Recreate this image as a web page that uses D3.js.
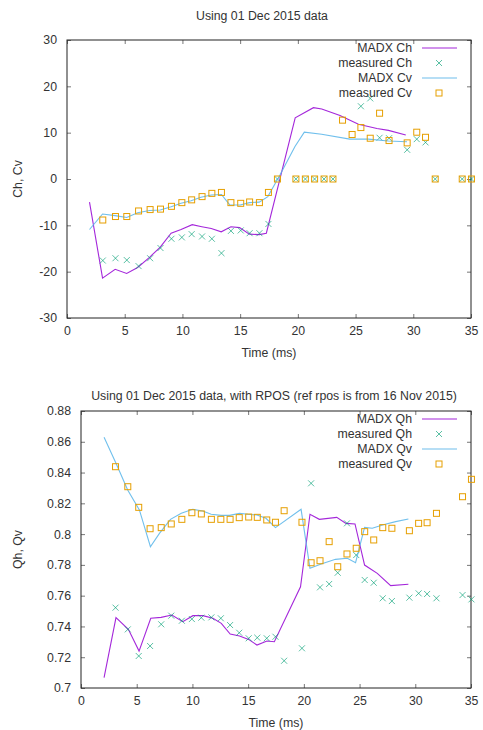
<!DOCTYPE html>
<html><head><meta charset="utf-8">
<script src="https://cdn.jsdelivr.net/npm/d3@7"></script>
<style>
body{margin:0;background:#fff;}
text{font-family:"Liberation Sans",Arial,sans-serif;fill:#333;}
</style></head>
<body><svg id="c" width="483" height="730"></svg>
<script>
// ---- data ----
const xTicks = [0,5,10,15,20,25,30,35];
const topYTicks = [-30,-20,-10,0,10,20,30];
const botYTicks = [0.7,0.72,0.74,0.76,0.78,0.8,0.82,0.84,0.86,0.88];
const botYLabels = ["0.7","0.72","0.74","0.76","0.78","0.8","0.82","0.84","0.86","0.88"];

// measured times (ms)
const tMeas = [3.1,4.2,5.18,6.2,7.2,8.1,9.05,9.95,10.8,11.7,12.55,13.38,14.2,15.05,15.82,16.67,17.45,18.23,19.83,20.65,21.45,22.27,23.04,23.87,24.7,25.46,26.27,27.08,27.9,29.47,30.3,31.06,31.9,34.24,35.04];

// top chart
const madxChT = [1.95,3.08,4.17,5.17,6.12,7.15,8.08,9.02,9.88,10.85,11.68,12.5,13.36,14.2,14.95,15.8,16.65,17.27,19.77,21.35,22.07,23.65,25.25,26.85,27.85,29.35];
const madxCh  = [-5.0,-21.4,-19.5,-20.4,-19.1,-16.9,-14.7,-11.7,-10.9,-9.85,-10.3,-10.7,-11.4,-10.3,-10.5,-11.9,-12.0,-11.7,13.2,15.4,15.1,13.7,11.8,10.9,10.5,9.5];
const measCh  = [-17.6,-17.1,-17.5,-18.8,-17.1,-14.9,-12.9,-12.6,-11.9,-12.4,-12.9,-16.0,-11.2,-11.1,-11.7,-11.7,-9.7,0,0,0,0,0,0,null,null,15.7,17.4,8.9,8.8,6.3,8.6,7.9,0,0,0];
const madxCvT = [1.95,3.08,4.17,5.17,6.12,7.15,8.08,9.02,9.88,10.75,11.6,12.5,13.38,14.1,15.0,15.8,16.65,17.4,18.45,19.75,20.56,22.06,24.5,26.1,27.85,29.45];
const madxCv  = [-10.9,-7.55,-7.9,-8.3,-7.3,-6.8,-6.7,-6.0,-5.25,-4.7,-3.95,-3.45,-3.35,-5.6,-5.6,-5.1,-5.0,-3.8,0.85,7.0,10.1,9.65,8.6,8.6,8.2,8.05];
const measCv  = [-8.85,-8.1,-8.1,-6.9,-6.6,-6.5,-5.9,-5.1,-4.5,-3.8,-3.1,-2.9,-5.1,-5.25,-4.96,-5.1,-2.9,0,0,0,0,0,0,12.7,9.6,11.1,8.8,14.2,8.3,7.8,10.1,9.0,0,0,0];

// bottom chart
const madxQhT = [2.07,3.14,4.25,5.21,6.26,7.19,8.15,9.14,10.04,10.94,11.84,12.59,13.39,14.23,15.04,15.79,16.69,17.35,19.7,20.55,21.39,22.95,23.78,24.59,25.45,26.59,27.79,29.38];
const madxQh  = [0.7067,0.7457,0.7381,0.724,0.7453,0.7459,0.7474,0.7431,0.747,0.747,0.7453,0.742,0.7351,0.7338,0.7316,0.7279,0.7305,0.7301,0.7658,0.8129,0.8096,0.8109,0.807,0.8066,0.7799,0.7745,0.7665,0.7674];
const measQh  = [0.7522,0.7381,0.7208,0.7273,0.7414,0.747,0.7437,0.7448,0.7457,0.7459,0.7453,0.7409,0.7359,0.7323,0.7327,0.7323,0.7333,0.7177,0.7258,0.833,0.7654,0.7676,0.7749,0.807,0.7864,0.7702,0.7684,0.7583,0.7565,0.7587,0.7615,0.7611,0.7583,0.7604,0.7576];
const madxQvT = [2.07,3.14,4.19,5.24,6.23,7.04,8.03,9.0,10.03,10.93,11.68,12.58,13.33,14.23,14.98,15.79,16.6,17.45,19.75,20.55,21.55,22.84,23.9,24.64,25.45,26.14,27.13,28.24,29.38];
const madxQv  = [0.8629,0.846,0.8287,0.8157,0.7918,0.8005,0.8096,0.8135,0.8161,0.815,0.8129,0.8122,0.8122,0.8135,0.8129,0.8124,0.8103,0.8042,0.8161,0.7778,0.7806,0.7836,0.7843,0.7814,0.8044,0.8038,0.8061,0.8081,0.8098];
const measQv  = [0.8438,0.8308,0.8174,0.8035,0.8042,0.8066,0.8096,0.8139,0.8131,0.8096,0.8096,0.8096,0.8107,0.8111,0.8109,0.8092,0.8077,0.8152,0.8077,0.7814,0.7827,0.7951,0.7788,0.7871,0.7908,0.8016,0.7962,0.8042,0.8038,0.8022,0.807,0.8074,0.8135,0.8243,0.8356];

const C = {purple:"#9400d3", green:"#009e73", blue:"#56b4e9", orange:"#e69f00"};
const FS = 12.3;
const svg = d3.select("#c");

function panel(o){
  const x = d3.scaleLinear().domain([0,35]).range([o.left,o.right]);
  const y = d3.scaleLinear().domain(o.ydom).range([o.bottom,o.top]);
  const g = svg.append("g");
  // ticks (inward, mirrored)
  const ax = [
    [d3.axisBottom(x).tickValues(xTicks).tickSize(-4).tickPadding(8), o.bottom, "x"],
    [d3.axisTop(x).tickValues(xTicks).tickSize(-4).tickFormat(""), o.top, "x"],
    [d3.axisLeft(y).tickValues(o.yticks).tickSize(-4).tickPadding(10).tickFormat((d,i)=>o.ylabels[i]), o.left, "y"],
    [d3.axisRight(y).tickValues(o.yticks).tickSize(-4).tickFormat(""), o.right, "y"]
  ];
  ax.forEach(([a,pos,k])=>{
    const ag = g.append("g").attr("transform", k==="x" ? `translate(0,${pos})` : `translate(${pos},0)`).call(a);
    ag.select(".domain").remove();
    ag.selectAll(".tick line").attr("stroke","#777");
    ag.selectAll(".tick text").attr("font-size",FS).attr("font-family","Liberation Sans, Arial, sans-serif").attr("fill","#333");
  });
  g.append("rect").attr("x",o.left).attr("y",o.top).attr("width",o.right-o.left).attr("height",o.bottom-o.top)
    .attr("fill","none").attr("stroke","#222").attr("stroke-width",1);
  // labels
  svg.append("text").attr("x",(o.left+o.right)/2).attr("y",o.bottom+39).attr("text-anchor","middle").attr("font-size",FS).text("Time (ms)");
  svg.append("text").attr("transform",`translate(22,${(o.top+o.bottom)/2}) rotate(-90)`).attr("text-anchor","middle").attr("font-size",FS).text(o.ylab);
  svg.append("text").attr("x",o.titleX).attr("y",o.titleY).attr("text-anchor","middle").attr("font-size",FS).text(o.title);

  const line = d3.line().x(d=>x(d[0])).y(d=>y(d[1]));
  const cross = (sel,px,py)=>sel.append("path").attr("d",`M${px-3},${py-3}L${px+3},${py+3}M${px-3},${py+3}L${px+3},${py-3}`)
      .attr("stroke",C.green).attr("stroke-width",1).attr("opacity",0.65).attr("fill","none");
  const square = (sel,px,py)=>sel.append("rect").attr("x",px-3).attr("y",py-3).attr("width",6).attr("height",6)
      .attr("stroke",C.orange).attr("stroke-width",1).attr("fill","none");

  o.series.forEach(s=>{
    if(s.type==="line"){
      g.append("path").datum(s.t.map((t,i)=>[t,s.v[i]])).attr("d",line).attr("fill","none")
        .attr("stroke",s.color).attr("stroke-width",1.1).attr("opacity",0.85);
    } else {
      s.t.forEach((t,i)=>{ if(s.v[i]!==null){ (s.type==="cross"?cross:square)(g,x(t),y(s.v[i])); } });
    }
  });
  // legend
  o.series.forEach((s,i)=>{
    const ly = o.legY + i*15;
    svg.append("text").attr("x",412).attr("y",ly).attr("dy","0.35em").attr("text-anchor","end").attr("font-size",FS).text(s.name);
    if(s.type==="line") g.append("line").attr("x1",422).attr("x2",457).attr("y1",ly).attr("y2",ly).attr("stroke",s.color).attr("stroke-width",1.1).attr("opacity",0.85);
    else (s.type==="cross"?cross:square)(g,439,ly);
  });
}

panel({left:67,right:471,top:40,bottom:318,ydom:[-30,30],yticks:topYTicks,ylabels:topYTicks.map(String),
  ylab:"Ch, Cv",title:"Using 01 Dec 2015 data",titleX:262,titleY:20,legY:48,
  series:[
    {name:"MADX Ch",type:"line",t:madxChT,v:madxCh,color:C.purple},
    {name:"measured Ch",type:"cross",t:tMeas,v:measCh},
    {name:"MADX Cv",type:"line",t:madxCvT,v:madxCv,color:C.blue},
    {name:"measured Cv",type:"square",t:tMeas,v:measCv}
  ]});
panel({left:81,right:471,top:411,bottom:688,ydom:[0.7,0.88],yticks:botYTicks,ylabels:botYLabels,
  ylab:"Qh, Qv",title:"Using 01 Dec 2015 data, with RPOS (ref rpos is from 16 Nov 2015)",titleX:274,titleY:400,legY:419,
  series:[
    {name:"MADX Qh",type:"line",t:madxQhT,v:madxQh,color:C.purple},
    {name:"measured Qh",type:"cross",t:tMeas,v:measQh},
    {name:"MADX Qv",type:"line",t:madxQvT,v:madxQv,color:C.blue},
    {name:"measured Qv",type:"square",t:tMeas,v:measQv}
  ]});
</script></body></html>
